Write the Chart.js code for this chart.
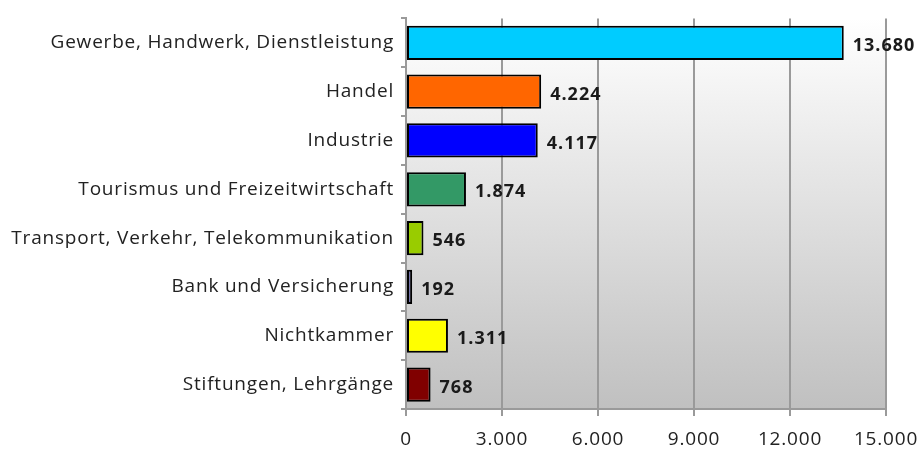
<!DOCTYPE html>
<html>
<head>
<meta charset="utf-8">
<script src="https://cdn.jsdelivr.net/npm/chart.js@4"></script>
<style>
  html, body { margin: 0; padding: 0; background: #fff; }
  #wrap { width: 922px; height: 454px; position: relative; }
</style>
</head>
<body>
<div id="wrap"><canvas id="chart" width="922" height="454"></canvas></div>
<script>
var categories = [
  "Gewerbe, Handwerk, Dienstleistung",
  "Handel",
  "Industrie",
  "Tourismus und Freizeitwirtschaft",
  "Transport, Verkehr, Telekommunikation",
  "Bank und Versicherung",
  "Nichtkammer",
  "Stiftungen, Lehrgänge"
];
var values = [13680, 4224, 4117, 1874, 546, 192, 1311, 768];
var barColors = ["#00ccff", "#ff6600", "#0000ff", "#339966", "#99cc00", "#7373aa", "#ffff00", "#800000"];
var xTicks = [0, 3000, 6000, 9000, 12000, 15000];

var fontFamily = "'Open Sans', 'Noto Sans', sans-serif";

function fmt(v) {
  return v.toString().replace(/\B(?=(\d{3})+(?!\d))/g, ".");
}

// gradient behind the plot area, plus the wide letter spacing of the original
var plotBg = {
  id: "plotBg",
  beforeDraw: function (chart) {
    var a = chart.chartArea;
    var ctx = chart.ctx;
    ctx.letterSpacing = "0.8px";
    var g = ctx.createLinearGradient(0, a.top, 0, a.bottom);
    g.addColorStop(0, "#ffffff");
    g.addColorStop(1, "#c0c0c0");
    ctx.save();
    ctx.fillStyle = g;
    ctx.fillRect(a.left, a.top, a.right - a.left, a.bottom - a.top);
    ctx.restore();
  }
};

// value labels right of the bars
var barLabels = {
  id: "barLabels",
  afterDatasetsDraw: function (chart) {
    var ctx = chart.ctx;
    var meta = chart.getDatasetMeta(0);
    ctx.save();
    ctx.letterSpacing = "1px";
    ctx.font = "bold 18px " + fontFamily;
    ctx.fillStyle = "#1a1a1a";
    ctx.textBaseline = "middle";
    ctx.textAlign = "left";
    meta.data.forEach(function (bar, i) {
      ctx.fillText(fmt(values[i]), bar.x + 9, bar.y + 3);
    });
    ctx.restore();
  }
};

var ctx = document.getElementById("chart").getContext("2d");
window.chart = new Chart(ctx, {
  type: "bar",
  data: {
    labels: categories,
    datasets: [{
      data: values,
      backgroundColor: barColors,
      borderColor: "#000000",
      borderWidth: 2,
      borderSkipped: false,
      barPercentage: 0.7,
      categoryPercentage: 1.0
    }]
  },
  options: {
    indexAxis: "y",
    responsive: false,
    animation: false,
    layout: { padding: { top: 7, right: 36, left: 0, bottom: 0 } },
    plugins: {
      legend: { display: false },
      tooltip: { enabled: false }
    },
    scales: {
      x: {
        min: 0,
        max: 15000,
        afterBuildTicks: function (scale) {
          scale.ticks = xTicks.map(function (v) { return { value: v }; });
        },
        afterFit: function (scale) {
          scale.height = 45;
          scale.paddingLeft = 0;
          scale.paddingRight = 0;
        },
        ticks: {
          color: "#222",
          font: { family: fontFamily, size: 19 },
          padding: 12,
          callback: function (v) { return fmt(v); }
        },
        grid: { color: "#9a9a9a", lineWidth: 2, tickLength: 7 },
        border: { color: "#9a9a9a", width: 2 }
      },
      y: {
        afterFit: function (scale) { scale.width = 406; },
        ticks: {
          color: "#222",
          font: { family: fontFamily, size: 19 },
          padding: 7
        },
        grid: { drawOnChartArea: false, offset: true, color: "#9a9a9a", lineWidth: 2, tickLength: 5 },
        border: { color: "#9a9a9a", width: 2 }
      }
    }
  },
  plugins: [plotBg, barLabels]
});
</script>
</body>
</html>
